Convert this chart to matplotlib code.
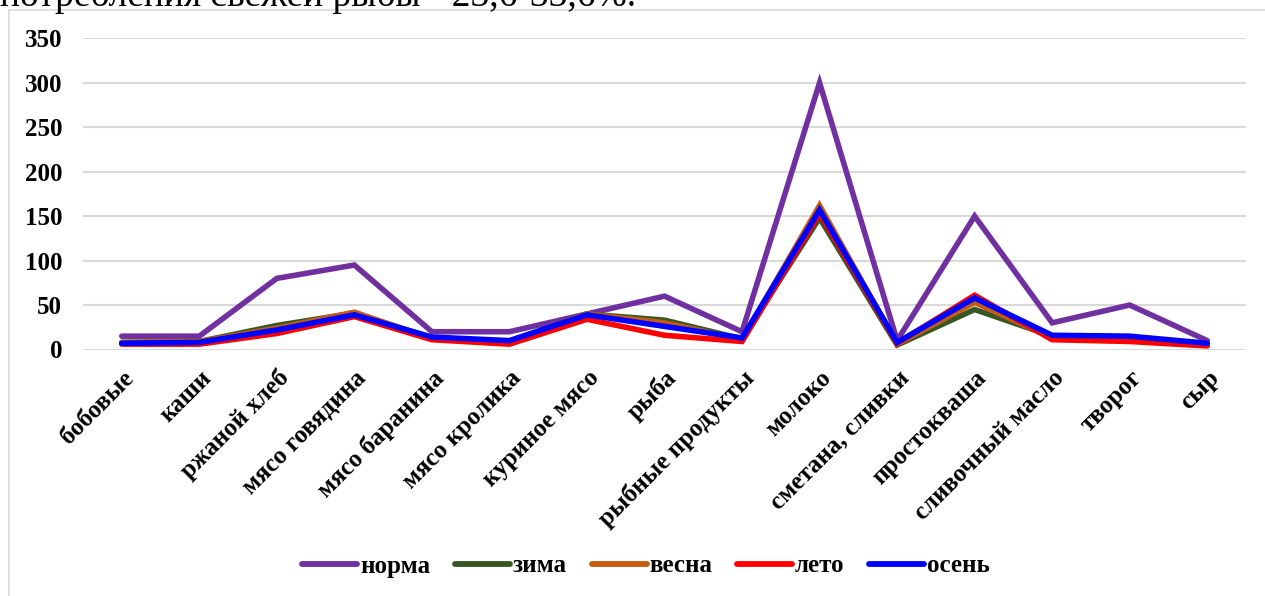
import matplotlib
matplotlib.use("Agg")
import matplotlib.pyplot as plt
from matplotlib.patches import Rectangle
from matplotlib.lines import Line2D

categories = ["бобовые", "каши", "ржаной хлеб", "мясо говядина", "мясо баранина",
              "мясо кролика", "куриное мясо", "рыба", "рыбные продукты", "молоко",
              "сметана, сливки", "простокваша", "сливочный масло", "творог", "сыр"]
norma = [15, 15, 80, 95, 20, 20, 40, 60, 20, 300, 10, 150, 30, 50, 10]
zima = [8, 9, 27, 41, 13, 9, 40, 33, 12, 148, 5, 45, 15, 13, 6]
vesna = [8, 9, 24, 42, 12, 8, 40, 30, 11, 162, 6, 53, 13, 12, 6]
leto = [6, 6, 18, 37, 11, 6, 34, 16, 9, 153, 7, 61, 11, 9, 4]
osen = [7, 8, 22, 39, 14, 10, 39, 26, 13, 157, 8, 58, 16, 15, 7]
series_names = ["норма", "зима", "весна", "лето", "осень"]
yticks = [0, 50, 100, 150, 200, 250, 300, 350]
top_text = "потребления свежей рыбы - 23,6-33,6%."

colors = ["#7030A0", "#375623", "#C55A11", "#FF0000", "#0000FF"]
FONT = "Liberation Serif"
W, H = 1265, 596

fig = plt.figure(figsize=(W / 100, H / 100), dpi=100)
fig.patch.set_facecolor("white")

# chart frame (light border, open to right/bottom)
fig.patches.append(Rectangle((8.5 / W, -0.1), 1.2, 1 - 9.5 / H + 0.1,
                             transform=fig.transFigure, fill=False,
                             edgecolor="#D9D9D9", linewidth=1.2, zorder=0))

# document text above the chart, clipped by the top edge as in the reference
fig.text(0.0, 1 - 6.0 / H, top_text, fontsize=27, family=FONT,
         ha="left", va="baseline", color="black")

left, right = 83 / W, 1246 / W
bottom, top = 1 - 349.5 / H, 1 - 38.3 / H
ax = fig.add_axes([left, bottom, right - left, top - bottom])
x = list(range(len(categories)))
for name, vals, c in zip(series_names, [norma, zima, vesna, leto, osen], colors):
    ax.plot(x, vals, color=c, linewidth=4.0, solid_capstyle="round",
            solid_joinstyle="miter", label=name, zorder=3)

ax.set_xlim(-0.5, len(categories) - 0.5)
ax.set_ylim(0, 350)
ax.set_yticks(yticks)
ax.set_yticklabels([str(v) for v in yticks], fontsize=18, fontweight="bold",
                   family=FONT)
ax.tick_params(axis="y", length=0, pad=15)
ax.set_xticks(x)
ax.set_xticklabels(categories, rotation=45, ha="right", va="top",
                   rotation_mode="anchor", fontsize=18, fontweight="bold",
                   family=FONT)
ax.tick_params(axis="x", length=0, pad=12)
ax.grid(axis="y", color="#D9D9D9", linewidth=1.5, zorder=0)
ax.set_axisbelow(True)
for s in ax.spines.values():
    s.set_visible(False)

handles = [Line2D([0], [0], color=c, linewidth=4.2, solid_capstyle="round")
           for c in colors]
fig.legend(handles, series_names, loc="center", bbox_to_anchor=(646 / W, 1 - 566 / H),
           ncol=5, frameon=False, handlelength=2.2, handletextpad=0.1,
           columnspacing=1.0, prop={"family": FONT, "weight": "bold", "size": 18})

fig.savefig("out.png", dpi=100, facecolor="white")
